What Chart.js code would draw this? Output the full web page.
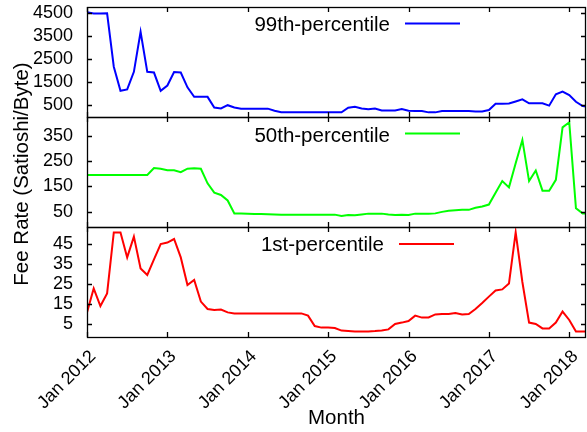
<!DOCTYPE html>
<html>
<head>
<meta charset="utf-8">
<title>Fee Rate</title>
<script src="https://cdn.jsdelivr.net/npm/chart.js@4/dist/chart.umd.min.js"></script>
<style>
  html, body { margin: 0; padding: 0; background: #fff; }
  canvas { display: block; }
</style>
</head>
<body>
<canvas id="feeChart" width="587" height="432"></canvas>
<script>
// monthly values, Jan 2012 .. Apr 2018
const X_TICK_LABELS = ["Jan 2012", "Jan 2013", "Jan 2014", "Jan 2015", "Jan 2016", "Jan 2017", "Jan 2018"];
const X_TICKS = [0, 12, 24, 36, 48, 60, 72];

const P99 = [
  4520, 4470, 4470, 4480, 2170, 1130, 1190, 1950, 3680, 1950,
  1920, 1130, 1360, 1940, 1920, 1280, 870, 870, 870, 410,
  370, 510, 410, 360, 360, 360, 360, 360, 270, 210,
  200, 200, 200, 200, 200, 200, 200, 200, 200, 400,
  440, 370, 330, 370, 280, 280, 280, 340, 270, 255,
  255, 200, 200, 255, 255, 255, 255, 255, 240, 240,
  300, 570, 570, 580, 670, 760, 590, 590, 590, 490,
  980, 1100, 950, 660, 470, 440,
];

const P50 = [
  195, 195, 195, 195, 195, 195, 195, 195, 195, 195,
  223, 220, 214, 214, 206, 220, 222, 220, 162, 125,
  116, 94, 43, 43, 42, 41, 41, 40, 39, 38,
  38, 38, 38, 38, 38, 38, 38, 38, 33, 37,
  36, 39, 42, 42, 42, 39, 37, 38, 37, 42,
  42, 42, 43, 49, 53, 55, 57, 57, 65, 70,
  78, 125, 171, 146, 242, 334, 171, 213, 133, 133,
  176, 384, 404, 63, 43, 43,
];

const P1 = [
  10.8, 22.8, 14, 20.3, 50.8, 50.8, 38.3, 48.7, 32.8, 29.5,
  37.3, 45, 45.7, 47.5, 38.3, 24.5, 27, 16.2, 12.5, 12,
  12.2, 10.8, 10.3, 10.3, 10.3, 10.3, 10.3, 10.3, 10.3, 10.3,
  10.3, 10.3, 10.3, 9.2, 4, 3.2, 3.2, 3, 1.7, 1.5,
  1.2, 1.2, 1.3, 1.5, 1.8, 2.3, 5, 5.7, 6.5, 9.2,
  8.2, 8.3, 9.8, 10, 10, 10.5, 9.8, 10, 12.5, 15.5,
  18.7, 21.8, 22.3, 25.3, 50.8, 26, 5.7, 5, 2.8, 2.8,
  5.7, 11.2, 7, 1.2, 1.2, 1.2,
];

const TICKS_P99 = [500, 1500, 2500, 3500, 4500];
const TICKS_P50 = [50, 150, 250, 350];
const TICKS_P1 = [5, 15, 25, 35, 45];

const FONT = "'Liberation Sans', Arial, sans-serif";

function toPoints(values) {
  return values.map((v, i) => ({ x: i, y: v }));
}

function yScale(ticks, min, max) {
  return {
    type: "linear",
    position: "left",
    stack: "fee",
    stackWeight: 1,
    min: min,
    max: max,
    grid: { display: false, drawTicks: false },
    border: { display: false },
    afterBuildTicks: (scale) => {
      scale.ticks = ticks.map((v) => ({ value: v }));
    },
    afterFit: (scale) => {
      scale.width = 87;
      scale.paddingTop = 0;
      scale.paddingBottom = 0;
    },
    ticks: {
      color: "#000",
      padding: 14,
      autoSkip: false,
      font: { size: 18, family: FONT },
      callback: (value) => String(value),
    },
  };
}

// frames of the three panels with gnuplot-like inward ticks
const framePlugin = {
  id: "frames",
  afterDatasetsDraw(chart) {
    const { ctx, chartArea } = chart;
    const { left, right } = chartArea;
    const xs = chart.scales.x;
    ctx.save();
    ctx.strokeStyle = "#000";
    ctx.lineWidth = 1.3;
    ["yTop", "yMid", "yBot"].forEach((id) => {
      const s = chart.scales[id];
      ctx.strokeRect(left + 0.5, s.top + 0.5, right - left - 1, s.bottom - s.top);
      ctx.beginPath();
      s.ticks.forEach((t) => {
        const y = Math.round(s.getPixelForValue(t.value)) + 0.5;
        ctx.moveTo(left, y);
        ctx.lineTo(left + 5, y);
        ctx.moveTo(right, y);
        ctx.lineTo(right - 5, y);
      });
      xs.ticks.forEach((t) => {
        const x = Math.round(xs.getPixelForValue(t.value)) + 0.5;
        ctx.moveTo(x, s.top);
        ctx.lineTo(x, s.top + 5);
        ctx.moveTo(x, s.bottom);
        ctx.lineTo(x, s.bottom - 5);
      });
      ctx.stroke();
    });
    ctx.restore();
  },
};

// key inside each panel: label then a line sample, plus the shared y title
const keyPlugin = {
  id: "keys",
  afterDraw(chart) {
    const { ctx } = chart;
    const keys = [
      { text: "99th-percentile", color: "#0000ff", textX: 390, base: 31, lineY: 23.5, x0: 405, x1: 460 },
      { text: "50th-percentile", color: "#00ff00", textX: 390, base: 141.5, lineY: 133.5, x0: 405, x1: 460 },
      { text: "1st-percentile", color: "#ff0000", textX: 384, base: 250.5, lineY: 244, x0: 399, x1: 454 },
    ];
    ctx.save();
    ctx.font = "20.5px " + FONT;
    ctx.textAlign = "right";
    ctx.textBaseline = "alphabetic";
    keys.forEach((k) => {
      ctx.fillStyle = "#000";
      ctx.fillText(k.text, k.textX, k.base);
      ctx.strokeStyle = k.color;
      ctx.lineWidth = 2;
      ctx.beginPath();
      ctx.moveTo(k.x0, k.lineY);
      ctx.lineTo(k.x1, k.lineY);
      ctx.stroke();
    });
    ctx.translate(22, 174);
    ctx.rotate(-Math.PI / 2);
    ctx.textAlign = "center";
    ctx.textBaseline = "middle";
    ctx.fillText("Fee Rate (Satioshi/Byte)", 0, 0);
    ctx.restore();
  },
};

function dataset(label, values, color, axis) {
  return {
    label: label,
    data: toPoints(values),
    borderColor: color,
    backgroundColor: color,
    borderWidth: 2,
    pointRadius: 0,
    tension: 0,
    yAxisID: axis,
  };
}

function initChart() {
  const ctx = document.getElementById("feeChart").getContext("2d");
  new Chart(ctx, {
    type: "line",
    data: {
      datasets: [
        dataset("1st-percentile", P1, "#ff0000", "yBot"),
        dataset("50th-percentile", P50, "#00ff00", "yMid"),
        dataset("99th-percentile", P99, "#0000ff", "yTop"),
      ],
    },
    options: {
      responsive: false,
      devicePixelRatio: 1,
      animation: false,
      layout: { padding: { top: 7, right: 1, left: 0, bottom: 0 } },
      plugins: {
        legend: { display: false },
        tooltip: { enabled: false },
      },
      scales: {
        x: {
          type: "linear",
          position: "bottom",
          min: 0,
          max: 74.5,
          grid: { display: false, drawTicks: false },
          border: { display: false },
          afterBuildTicks: (scale) => {
            scale.ticks = X_TICKS.map((v) => ({ value: v }));
          },
          afterFit: (scale) => {
            scale.height = 95;
            scale.paddingLeft = 0;
            scale.paddingRight = 0;
          },
          ticks: {
            color: "#000",
            minRotation: 45,
            maxRotation: 45,
            padding: 9,
            labelOffset: 6,
            autoSkip: false,
            font: { size: 18, family: FONT },
            callback: (value) => X_TICK_LABELS[X_TICKS.indexOf(value)],
          },
          title: {
            display: true,
            text: "Month",
            color: "#000",
            padding: { top: 0, bottom: 1 },
            font: { size: 20.5, family: FONT },
          },
        },
        yBot: yScale(TICKS_P1, -1.5, 53.5),
        yMid: yScale(TICKS_P50, -11, 425),
        yTop: yScale(TICKS_P99, 0, 4750),
      },
    },
    plugins: [framePlugin, keyPlugin],
  });
}

document.addEventListener("DOMContentLoaded", initChart);
</script>
</body>
</html>
